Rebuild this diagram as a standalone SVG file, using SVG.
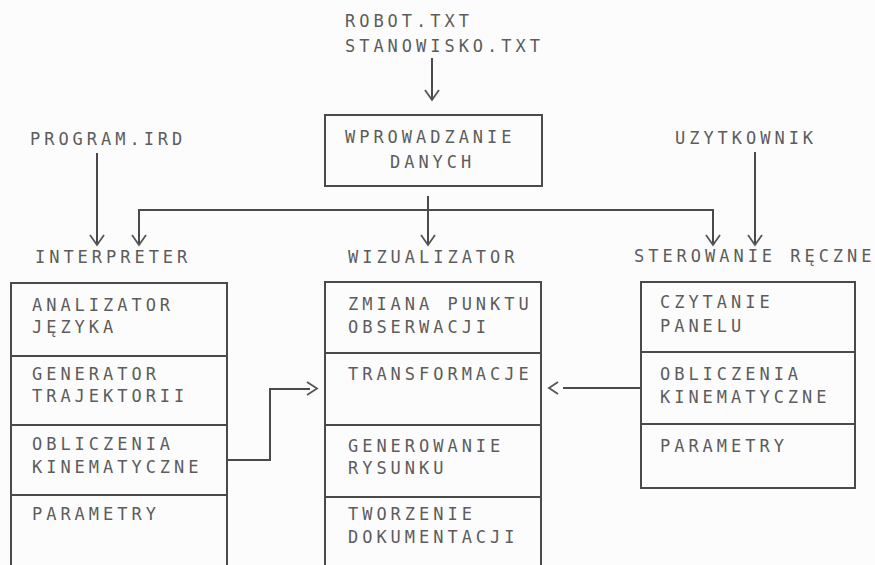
<svg xmlns="http://www.w3.org/2000/svg" width="875" height="565" viewBox="0 0 875 565">
<style>
  .t { font-family: "DejaVu Sans Mono", "Liberation Mono", monospace; font-size: 17px; letter-spacing: 3.97px; fill: #5c5c5c; }
  .box { fill: none; stroke: #4a4a4a; stroke-width: 2; }
  .ln { fill: none; stroke: #4a4a4a; stroke-width: 2; }
  .ah { fill: none; stroke: #555; stroke-width: 1.8; }
</style>
<rect width="875" height="565" fill="#fcfcfc"/>

<g id="robot-files">
  <text class="t" x="345" y="27">ROBOT.TXT</text>
  <text class="t" x="345" y="52">STANOWISKO.TXT</text>
</g>
<g id="program-ird">
  <text class="t" x="30" y="145">PROGRAM.IRD</text>
</g>
<g id="uzytkownik">
  <text class="t" x="675" y="144">UZYTKOWNIK</text>
</g>
<g id="wprowadzanie">
  <rect class="box" x="325" y="115" width="217" height="71"/>
  <text class="t" x="345" y="143">WPROWADZANIE</text>
  <text class="t" x="390" y="168">DANYCH</text>
</g>

<g id="interpreter">
  <text class="t" x="35" y="263">INTERPRETER</text>
  <path class="box" d="M11,570 V283 H227 V570"/>
  <line class="ln" x1="11" y1="356" x2="227" y2="356"/>
  <line class="ln" x1="11" y1="425" x2="227" y2="425"/>
  <line class="ln" x1="11" y1="495" x2="227" y2="495"/>
  <text class="t" x="32" y="311">ANALIZATOR</text>
  <text class="t" x="32" y="333">JĘZYKA</text>
  <text class="t" x="32" y="380">GENERATOR</text>
  <text class="t" x="32" y="402">TRAJEKTORII</text>
  <text class="t" x="32" y="450">OBLICZENIA</text>
  <text class="t" x="32" y="473">KINEMATYCZNE</text>
  <text class="t" x="32" y="520">PARAMETRY</text>
</g>

<g id="wizualizator">
  <text class="t" x="348" y="263">WIZUALIZATOR</text>
  <path class="box" d="M325,570 V282 H541 V570"/>
  <line class="ln" x1="325" y1="353" x2="541" y2="353"/>
  <line class="ln" x1="325" y1="425" x2="541" y2="425"/>
  <line class="ln" x1="325" y1="497" x2="541" y2="497"/>
  <text class="t" x="348" y="310">ZMIANA PUNKTU</text>
  <text class="t" x="348" y="333">OBSERWACJI</text>
  <text class="t" x="348" y="380">TRANSFORMACJE</text>
  <text class="t" x="348" y="452">GENEROWANIE</text>
  <text class="t" x="348" y="474">RYSUNKU</text>
  <text class="t" x="348" y="520">TWORZENIE</text>
  <text class="t" x="348" y="543">DOKUMENTACJI</text>
</g>

<g id="sterowanie">
  <text class="t" x="634" y="262">STEROWANIE RĘCZNE</text>
  <rect class="box" x="641" y="282" width="214" height="206"/>
  <line class="ln" x1="641" y1="352" x2="855" y2="352"/>
  <line class="ln" x1="641" y1="424" x2="855" y2="424"/>
  <text class="t" x="660" y="308">CZYTANIE</text>
  <text class="t" x="660" y="332">PANELU</text>
  <text class="t" x="660" y="380">OBLICZENIA</text>
  <text class="t" x="660" y="403">KINEMATYCZNE</text>
  <text class="t" x="660" y="452">PARAMETRY</text>
</g>

<g id="connectors">
  <line class="ln" x1="432" y1="58" x2="432" y2="100"/>
  <polyline class="ah" points="425,90 432,100 439,90"/>

  <line class="ln" x1="97" y1="153" x2="97" y2="245"/>
  <polyline class="ah" points="90,235 97,245 104,235"/>

  <line class="ln" x1="755" y1="152" x2="755" y2="245"/>
  <polyline class="ah" points="748,235 755,245 762,235"/>

  <line class="ln" x1="428" y1="196" x2="428" y2="245"/>
  <polyline class="ah" points="421,235 428,245 435,235"/>
  <polyline class="ln" points="139,245 139,210 713,210 713,245"/>
  <polyline class="ah" points="132,235 139,245 146,235"/>
  <polyline class="ah" points="706,235 713,245 720,235"/>

  <polyline class="ln" points="227,460 270,460 270,389 310,389"/>
  <polyline class="ah" points="307,382 317,388.5 307,395"/>

  <line class="ln" x1="641" y1="388" x2="563" y2="388"/>
  <polyline class="ah" points="558,382 549,388 558,394"/>
</g>
</svg>
